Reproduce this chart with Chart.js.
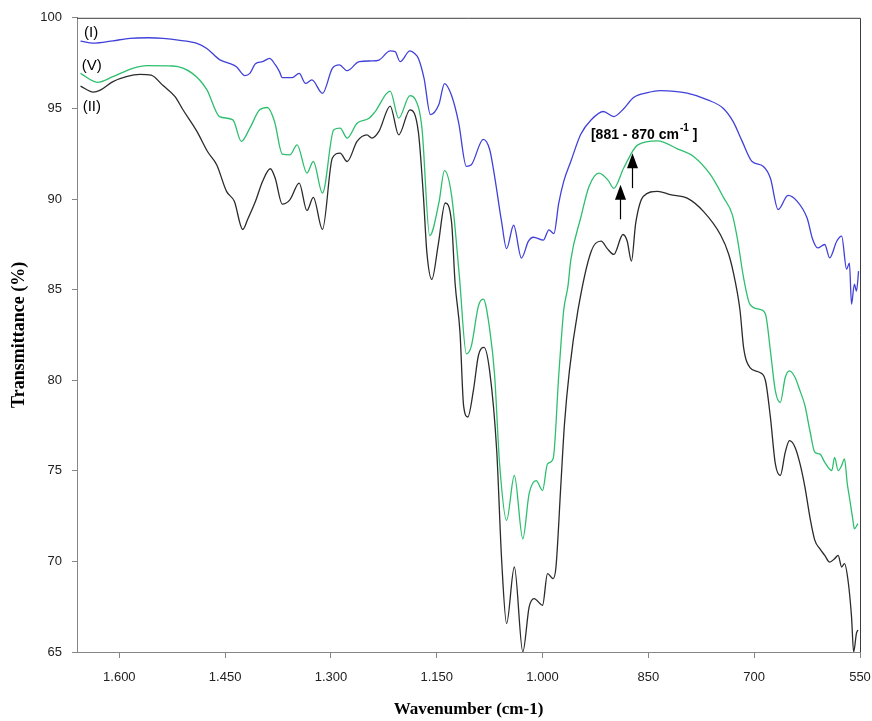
<!DOCTYPE html>
<html>
<head>
<meta charset="utf-8">
<title>FTIR spectra</title>
<script src="https://cdn.jsdelivr.net/npm/chart.js@4.4.0/dist/chart.umd.min.js"></script>
<style>
  html, body { margin: 0; padding: 0; background: #fff; }
  #wrap { width: 872px; height: 721px; }
</style>
</head>
<body>
<div id="wrap"><canvas id="ftir" width="872" height="721"></canvas></div>
<script>
// spectrum (I) - wavenumber (cm-1) / transmittance (%)
var waveI = [1655, 1637, 1609, 1585, 1559, 1538, 1514, 1490, 1476, 1458, 1444, 1434, 1422, 1415, 1407, 1397,
  1387, 1379, 1373, 1369, 1355, 1345, 1336, 1327, 1312, 1298, 1288, 1277, 1260, 1242, 1232, 1216, 1209, 1202,
  1188, 1181, 1176, 1168, 1159, 1147, 1139, 1129, 1119, 1108, 1101, 1084, 1075, 1068, 1058, 1051, 1041, 1030,
  1020, 1013, 999, 991, 984, 977, 970, 960, 946, 931, 914, 899, 886, 871, 851, 833, 795, 766, 744, 730, 717,
  703, 687, 677, 666, 652, 639, 625, 617, 610, 600, 593, 583, 576, 569, 565, 562, 558, 555, 552];
var transI = [98.71, 98.60, 98.73, 98.87, 98.90, 98.87, 98.76, 98.59, 98.31, 97.69, 97.48, 97.30, 96.81, 96.93,
  97.47, 97.58, 97.76, 97.41, 97.03, 96.70, 96.70, 96.93, 96.38, 96.57, 95.83, 97.21, 97.40, 97.08, 97.58, 97.62,
  97.67, 98.17, 98.13, 97.58, 98.17, 98.02, 97.76, 96.66, 94.66, 95.21, 96.37, 95.71, 94.22, 91.80, 91.89, 93.29,
  92.73, 91.25, 88.72, 87.26, 88.55, 86.74, 87.67, 87.89, 87.73, 88.30, 88.09, 89.78, 90.97, 92.07, 93.56, 94.37,
  94.83, 94.55, 94.94, 95.60, 95.87, 95.98, 95.84, 95.47, 95.01, 94.28, 93.18, 92.07, 91.80, 91.15, 89.42, 90.20,
  89.87, 88.95, 87.76, 87.30, 87.49, 86.75, 87.67, 87.95, 86.13, 86.46, 84.20, 85.30, 84.92, 86.02];

// spectrum (V)
var waveV = [1655, 1631, 1609, 1581, 1561, 1524, 1496, 1476, 1458, 1439, 1427, 1415, 1401, 1390, 1380, 1369,
  1358, 1348, 1334, 1325, 1312, 1296, 1287, 1277, 1263, 1246, 1238, 1216, 1204, 1188, 1181, 1171, 1160, 1147,
  1139, 1129, 1118, 1108, 1101, 1091, 1084, 1075, 1068, 1061, 1051, 1040, 1028, 1019, 1009, 1000, 993, 985, 977,
  970, 964, 960, 946, 934, 920, 907, 899, 885, 865, 837, 809, 786, 762, 743, 731, 724, 715, 706, 692, 684, 677,
  670, 663, 656, 650, 642, 635, 628, 621, 614, 607, 600, 590, 586, 581, 576, 572, 568, 565, 560, 558, 553];
var transV = [96.93, 96.44, 96.75, 97.21, 97.36, 97.34, 96.92, 96.04, 94.55, 94.37, 93.18, 93.91, 94.92, 95.05,
  94.28, 92.48, 92.44, 92.99, 91.43, 92.07, 90.33, 93.82, 93.91, 93.36, 94.18, 94.46, 94.79, 95.95, 94.46, 95.71,
  95.54, 93.91, 87.98, 89.78, 91.57, 90.20, 85.77, 81.45, 81.88, 84.09, 84.47, 82.82, 80.29, 75.44, 72.26, 74.74,
  71.25, 73.76, 74.46, 73.91, 75.38, 75.67, 80.30, 83.87, 85.19, 86.63, 88.95, 90.70, 91.43, 91.03, 90.59, 91.71,
  92.99, 93.21, 92.77, 92.35, 91.34, 90.05, 89.14, 87.85, 85.65, 84.19, 83.91, 83.64, 81.62, 79.41, 78.77, 80.15,
  80.52, 80.15, 79.41, 78.59, 77.21, 76.02, 75.93, 75.47, 75.01, 75.74, 75.01, 75.29, 75.66, 74.28, 73.54, 72.26,
  71.80, 72.08];

// spectrum (II)
var waveII = [1655, 1637, 1627, 1609, 1590, 1571, 1555, 1538, 1521, 1510, 1490, 1475, 1462, 1448, 1437, 1425,
  1418, 1407, 1397, 1386, 1379, 1369, 1358, 1345, 1334, 1325, 1312, 1298, 1287, 1277, 1263, 1249, 1242, 1232,
  1216, 1204, 1188, 1176, 1169, 1164, 1157, 1148, 1138, 1129, 1124, 1117, 1112, 1106, 1098, 1091, 1083, 1075,
  1065, 1058, 1051, 1040, 1028, 1019, 1012, 1000, 993, 985, 981, 974, 969, 962, 950, 931, 917, 908, 899, 886, 880,
  874, 868, 857, 837, 819, 795, 772, 748, 736, 727, 720, 715, 706, 692, 684, 677, 670, 663, 656, 650, 642, 635,
  628, 621, 614, 607, 600, 593, 586, 581, 576, 572, 567, 562, 559, 555, 553];
var transII = [96.23, 95.90, 96.01, 96.48, 96.75, 96.88, 96.84, 96.26, 95.65, 94.94, 93.73, 92.62, 91.89, 90.42,
  89.87, 88.32, 88.88, 89.87, 90.97, 91.67, 91.15, 89.72, 89.97, 90.88, 89.36, 90.09, 88.32, 92.26, 92.53, 92.07,
  93.18, 93.54, 93.36, 93.73, 95.13, 93.54, 94.92, 93.68, 90.20, 87.04, 85.56, 87.46, 89.78, 88.72, 85.35, 82.61,
  78.61, 77.97, 79.45, 81.35, 81.81, 80.50, 76.11, 70.06, 66.57, 69.69, 65.01, 67.49, 67.95, 67.58, 69.33, 69.05,
  69.69, 74.28, 77.55, 80.50, 83.82, 87.12, 87.67, 87.25, 86.94, 88.04, 87.67, 86.57, 88.66, 90.15, 90.42, 90.24,
  90.05, 89.32, 88.04, 86.94, 85.47, 83.82, 81.80, 80.70, 80.42, 79.97, 77.95, 75.38, 74.74, 76.02, 76.66, 76.29,
  75.38, 74.09, 72.44, 71.16, 70.70, 70.33, 69.96, 70.15, 70.33, 69.69, 69.88, 68.96, 66.94, 65.00, 66.04, 66.21];

var xTicks = [1600, 1450, 1300, 1150, 1000, 850, 700, 550];
var yTicks = [65, 70, 75, 80, 85, 90, 95, 100];

// curve names and the two arrows of the note, anchored in data units
var curveNames = [
  { text: '(I)', wave: 1640, trans: 99.15 },
  { text: '(V)', wave: 1639, trans: 97.36 },
  { text: '(II)', wave: 1639, trans: 95.10 }
];
var noteArrows = [
  { wave: 890, tail: 88.88, tip: 90.79 },
  { wave: 873, tail: 90.60, tip: 92.53 }
];
var note = { wave: 856, trans: 93.3 };

function toPoints(xs, ys) {
  return xs.map(function(x, i) { return { x: x, y: ys[i] }; });
}

function formatWave(v) {
  if (v >= 1000) {
    var rest = String(v % 1000);
    while (rest.length < 3) rest = '0' + rest;
    return Math.floor(v / 1000) + '.' + rest;
  }
  return String(v);
}

var extras = {
  id: 'extras',
  afterDatasetsDraw: function(chart) {
    var ctx = chart.ctx, a = chart.chartArea;
    var sx = chart.scales.x, sy = chart.scales.y;
    ctx.save();

    // top and right frame of the plot area
    ctx.strokeStyle = '#3c3c3c';
    ctx.lineWidth = 1;
    ctx.beginPath();
    ctx.moveTo(a.left, a.top + 0.5);
    ctx.lineTo(a.right + 0.5, a.top + 0.5);
    ctx.lineTo(a.right + 0.5, a.bottom);
    ctx.stroke();

    // (I) (V) (II)
    ctx.fillStyle = '#000';
    ctx.font = '15px "Liberation Sans", Arial, sans-serif';
    ctx.textAlign = 'center';
    ctx.textBaseline = 'middle';
    curveNames.forEach(function(n) {
      ctx.fillText(n.text, sx.getPixelForValue(n.wave), sy.getPixelForValue(n.trans));
    });

    // arrows
    noteArrows.forEach(function(ar) {
      var x = Math.round(sx.getPixelForValue(ar.wave)) + 0.5;
      var y0 = sy.getPixelForValue(ar.tail);
      var y1 = sy.getPixelForValue(ar.tip);
      ctx.strokeStyle = '#000';
      ctx.lineWidth = 1.2;
      ctx.beginPath();
      ctx.moveTo(x, y0);
      ctx.lineTo(x, y1 + 12);
      ctx.stroke();
      ctx.beginPath();
      ctx.moveTo(x, y1);
      ctx.lineTo(x - 5.5, y1 + 15);
      ctx.lineTo(x + 5.5, y1 + 15);
      ctx.closePath();
      ctx.fill();
    });

    // [881 - 870 cm-1]
    var nx = sx.getPixelForValue(note.wave);
    var ny = sy.getPixelForValue(note.trans);
    var main = '[881 - 870 cm';
    var sup = '-1';
    var tail = ' ]';
    ctx.textBaseline = 'alphabetic';
    ctx.textAlign = 'left';
    ctx.font = 'bold 14px "Liberation Sans", Arial, sans-serif';
    var w1 = ctx.measureText(main).width;
    var w3 = ctx.measureText(tail).width;
    ctx.font = 'bold 10px "Liberation Sans", Arial, sans-serif';
    var w2 = ctx.measureText(sup).width + 1;
    var x0 = nx - (w1 + w2 + w3) / 2;
    ctx.font = 'bold 14px "Liberation Sans", Arial, sans-serif';
    ctx.fillText(main, x0, ny);
    ctx.fillText(tail, x0 + w1 + w2, ny);
    ctx.font = 'bold 10px "Liberation Sans", Arial, sans-serif';
    ctx.fillText(sup, x0 + w1 + 1, ny - 8);

    ctx.restore();
  }
};

var lineStyle = {
  borderWidth: 1.3,
  pointRadius: 0,
  pointHoverRadius: 0,
  fill: false,
  cubicInterpolationMode: 'monotone'
};

new Chart(document.getElementById('ftir'), {
  type: 'line',
  data: {
    datasets: [
      Object.assign({ label: '(I)', data: toPoints(waveI, transI), borderColor: '#4141d9' }, lineStyle),
      Object.assign({ label: '(V)', data: toPoints(waveV, transV), borderColor: '#2dbf6e' }, lineStyle),
      Object.assign({ label: '(II)', data: toPoints(waveII, transII), borderColor: '#2b2b2b' }, lineStyle)
    ]
  },
  options: {
    responsive: false,
    devicePixelRatio: 1,
    animation: false,
    layout: { padding: { top: 16, right: 12, left: 0, bottom: 0 } },
    plugins: {
      legend: { display: false },
      title: { display: false },
      tooltip: { enabled: false }
    },
    scales: {
      x: {
        type: 'linear',
        reverse: true,
        min: 550,
        max: 1660,
        afterBuildTicks: function(scale) {
          scale.ticks = xTicks.map(function(v) { return { value: v }; });
        },
        afterFit: function(scale) {
          scale.height = 69;
          // the 550 label may overhang into the right margin
          scale.paddingLeft = 0;
          scale.paddingRight = 0;
        },
        grid: { drawOnChartArea: false, drawTicks: true, tickLength: 6, color: '#868686' },
        border: { color: '#868686', width: 1 },
        ticks: {
          padding: 12,
          maxRotation: 0,
          color: '#222',
          font: { family: '"Liberation Sans", Arial, sans-serif', size: 13 },
          callback: function(v) { return formatWave(v); }
        },
        title: {
          display: true,
          text: 'Wavenumber (cm-1)',
          color: '#000',
          font: { family: '"Liberation Serif", "Times New Roman", serif', size: 17, weight: 'bold' },
          padding: { top: 0, bottom: 1 }
        }
      },
      y: {
        min: 65,
        max: 100,
        afterBuildTicks: function(scale) {
          scale.ticks = yTicks.map(function(v) { return { value: v }; });
        },
        afterFit: function(scale) { scale.width = 77; },
        grid: { drawOnChartArea: false, drawTicks: true, tickLength: 5, color: '#868686' },
        border: { color: '#868686', width: 1 },
        ticks: {
          padding: 10,
          color: '#222',
          font: { family: '"Liberation Sans", Arial, sans-serif', size: 13 }
        },
        title: {
          display: true,
          text: 'Transmittance (%)',
          color: '#000',
          font: { family: '"Liberation Serif", "Times New Roman", serif', size: 18, weight: 'bold' },
          padding: { top: 9, bottom: 0 }
        }
      }
    }
  },
  plugins: [extras]
});
</script>
</body>
</html>
